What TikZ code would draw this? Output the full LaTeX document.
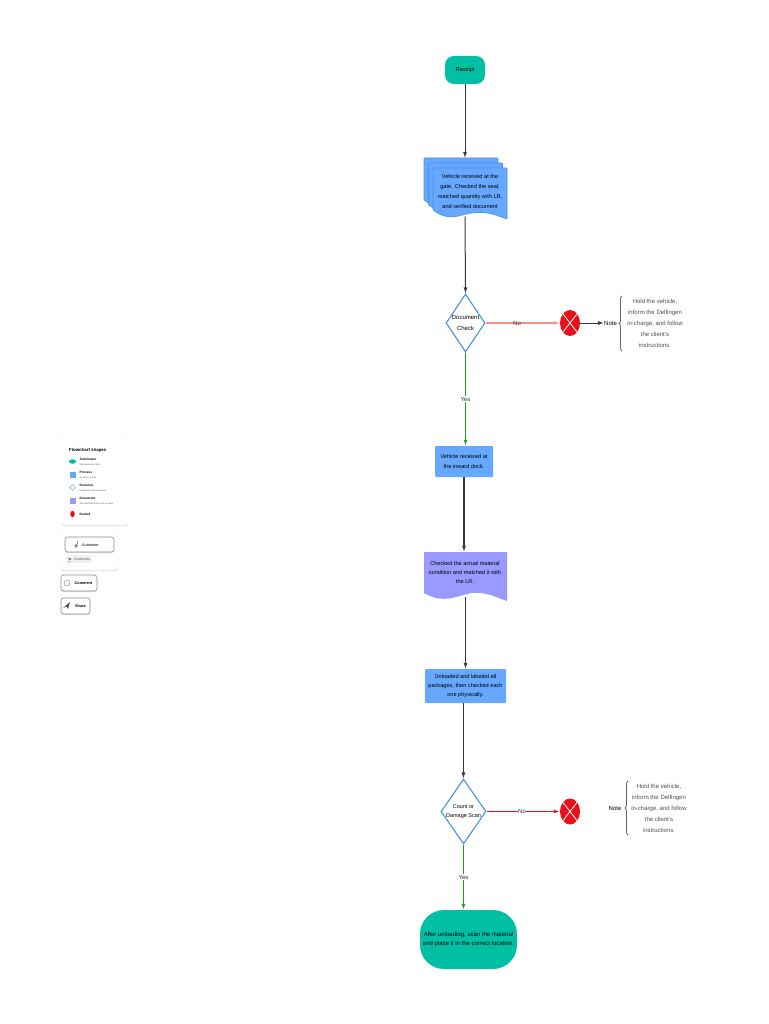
\documentclass[tikz,border=0pt]{standalone}
\usepackage{fontspec}
\setmainfont{Liberation Sans}
\usetikzlibrary{shapes.geometric}
\usetikzlibrary{positioning}
\usetikzlibrary{arrows.meta}
\usetikzlibrary{shadows}
\usetikzlibrary{decorations.pathreplacing}
\definecolor{termgreen}{HTML}{00BFA5}
\definecolor{procblue}{HTML}{66A8FF}
\definecolor{diagblue}{HTML}{4A90E2}
\definecolor{docpurple}{HTML}{9999FF}
\definecolor{denyred}{HTML}{E8101A}
\definecolor{linedark}{HTML}{333A45}
\definecolor{yesgreen}{HTML}{1F9E1F}
\tikzset{
  txt/.style={font=\fontsize{6}{11}\selectfont,align=center,inner sep=0pt,text=black},
  tight/.style={font=\fontsize{5.6}{#1}\selectfont},
  termbox/.style={txt,fill=termgreen,rounded corners=#1},
  procbox/.style={txt,fill=procblue,rounded corners=1pt},
  decbox/.style={txt,diamond,draw=diagblue,line width=1.1pt,fill=white,aspect=.7},
  flow/.style={-{Latex[length=6pt,width=4pt]},draw=linedark,line width=1pt},
  lab/.style={font=\fontsize{6}{7}\selectfont,fill=white,inner sep=.6pt,text=black!80},
  softshadow/.style={drop shadow={shadow xshift=0pt,shadow yshift=-1.2pt,opacity=.12,fill=black}},
  card/.style={draw=black!5,fill=white,rounded corners=3pt,line width=.4pt,softshadow},
  btn/.style={draw=black!45,fill=white,rounded corners=2.5pt,line width=.6pt,softshadow},
  lhead/.style={font=\fontsize{3.2}{4}\selectfont\bfseries,anchor=west,inner sep=0pt},
  lsub/.style={font=\fontsize{2.2}{3}\selectfont,anchor=west,inner sep=0pt,text=black!70},
}
\newcommand{\denied}[2]{%
  \node[ellipse,fill=denyred,minimum width=20pt,minimum height=26pt,inner sep=0pt] (#1) at #2 {};
  \draw[white,line width=.8pt] (#1.north west) -- (#1.south east) (#1.north east) -- (#1.south west);
}
\begin{document}
\begin{tikzpicture}[x=1pt,y=-1pt]
  \useasboundingbox (0,0) rectangle (768,1024);

  % main column
  \node[termbox=9pt,tight=7,minimum width=40pt,minimum height=28pt] (receipt) at (465,70) {Receipt};

  \foreach \dx/\dy in {0/0,4.5/5,9/10}
    \fill[procblue,draw=diagblue,line width=.6pt,rounded corners=.8pt] (424+\dx,158+\dy) -- (498+\dx,158+\dy) -- (498+\dx,209+\dy) .. controls (486+\dx,205+\dy) and (479+\dx,201+\dy) .. (463+\dx,203+\dy) .. controls (449+\dx,205+\dy) and (441+\dx,212+\dy) .. (424+\dx,200+\dy) -- cycle;
  \node[txt,tight=10.2] (doca) at (470,191.5) {Vehicle received at the\\gate. Checked the seal,\\matched quantity with LR,\\and verified document};
  \coordinate (docatop) at (465,158);
  \coordinate (docabot) at (465,216.5);

  \node[decbox,minimum width=39pt,minimum height=58pt] (checka) at (465.5,323) {};
  \node[txt] (checkatxt) at (checka) {Document\\Check};

  \node[procbox,tight=9.5,minimum width=58pt,minimum height=31pt] (inward) at (464,461.5) {Vehicle received at\\the inward dock.};

  \fill[docpurple] (424,552) -- (507,552) -- (507,601) .. controls (495,597) and (488,592) .. (472,593) .. controls (458,595) and (445,605) .. (424,593) -- cycle;
  \node[txt,tight=8.6] (docb) at (465,572.5) {Checked the actual material\\condition and matched it with\\the LR.};
  \coordinate (docbtop) at (464,552);
  \coordinate (docbbot) at (465.5,597);

  \node[procbox,tight=8.7,minimum width=81pt,minimum height=34pt] (unload) at (465.5,686) {Unloaded and labeled all\\packages, then checked each\\one physically.};

  \node[decbox,minimum width=45pt,minimum height=65pt] (checkb) at (463.5,811.5) {};
  \node[txt,font=\fontsize{5.5}{9}\selectfont] (checkbtxt) at (checkb) {Count or\\Damage Scan};

  \node[termbox=24pt,font=\fontsize{6}{8.2}\selectfont,minimum width=97pt,minimum height=59pt] (final) at (468.5,939.5) {After unloading, scan the material\\and place it in the correct location.};

  % side branches
  \denied{xa}{(570,323)}
  \denied{xb}{(570,811.5)}

  \node[txt] (notea) at (610.5,323) {Note};
  \node[txt,text=black!70] (holda) at (655,323) {Hold the vehicle,\\inform the Delfingen\\in-charge, and follow\\the client's\\instructions.};
  \node[txt] (noteb) at (615,808) {Note};
  \node[txt,text=black!70] (holdb) at (659,808.5) {Hold the vehicle,\\inform the Delfingen\\in-charge, and follow\\the client's\\instructions.};
  \coordinate (bratop) at (622,296);
  \coordinate (brabot) at (622,351);
  \coordinate (brbtop) at (628,781);
  \coordinate (brbbot) at (628,835);
  \draw[black!60,line width=.8pt,decorate,decoration={brace,amplitude=3pt}] (brabot) -- (bratop);
  \draw[black!60,line width=.8pt,decorate,decoration={brace,amplitude=3pt}] (brbbot) -- (brbtop);

  % connectors
  \draw[flow] (receipt) -- (docatop);
  \draw[flow] (docabot) -- (checka.north);
  \draw[flow,draw=yesgreen,line width=1.6pt] (checka.south) -- (inward.north -| checka.south);
  \node[lab] (yesa) at (465.5,399) {Yes};
  \draw[flow,line width=1.8pt] (inward) -- (docbtop);
  \draw[flow] (docbbot) -- (unload);
  \draw[flow] (unload.south -| checkb.north) -- (checkb.north);
  \draw[flow,draw=yesgreen,line width=1.6pt] (checkb.south) -- (final.north -| checkb.south);
  \node[lab] (yesb) at (463.5,877) {Yes};
  \draw[flow,draw=red!45,line width=1.7pt] (checka.east) -- (xa.west);
  \node[lab,fill=none] (noa) at (517,323) {No};
  \draw[flow,draw=denyred,line width=1.2pt] (checkb.east) -- (xb.west);
  \node[lab] (nob) at (522,811.5) {No};
  \draw[flow] (xa.east) -- (notea.west);

  % legend
  \draw[card] (61,437) rectangle (128,525);
  \node[font=\fontsize{4.4}{5}\selectfont\bfseries,anchor=west,inner sep=0pt] (legtitle) at (69,450) {Flowchart shapes};
  \node[ellipse,fill=termgreen,minimum width=7pt,minimum height=4.5pt,inner sep=0pt] (legt) at (72.5,461.5) {};
  \node[lhead] at (79.5,459.5) {Terminator};
  \node[lsub] at (79.5,464.5) {Start and end of flow};
  \node[fill=procblue,minimum size=6pt,inner sep=0pt] (legp) at (72.5,474.5) {};
  \node[lhead] at (79.5,472.5) {Process};
  \node[lsub] at (79.5,477.5) {An action or task};
  \node[diamond,draw=diagblue!60,line width=.7pt,minimum size=6pt,inner sep=0pt] (legd) at (72.5,487.5) {};
  \node[lhead] at (79.5,485.5) {Decision};
  \node[lsub] at (79.5,490.5) {A question to be answered};
  \node[fill=docpurple,minimum size=6pt,inner sep=0pt] (legm) at (72.5,500.5) {};
  \node[lhead] at (79.5,498.5) {Document};
  \node[lsub] at (79.5,503.5) {The input/output of a step or event};
  \node[ellipse,fill=denyred,minimum width=4.5pt,minimum height=6.5pt,inner sep=0pt] (legx) at (72.5,514) {};
  \node[lhead] at (79.5,514) {Denied};

  \draw[card] (61,532) rectangle (118,570);
  \draw[btn] (65,537) rectangle (114,552);
  \node[lhead,font=\fontsize{3.8}{4}\selectfont] at (82,545) {Automate};
  \draw[black!70,line width=.5pt] (76,546) circle (1.3pt) (76.8,545) -- (78,541);
  \fill[black!6,rounded corners=1pt] (66,555) rectangle (92,563);
  \node[lsub,font=\fontsize{3.4}{4}\selectfont] at (74,559.5) {Customize};
  \draw[black!50,line width=.4pt] (68,558) -- (71,558) (68.5,559.5) -- (70.5,559.5) (69,561) -- (70,561);
  \draw[btn] (61,575) rectangle (97,591);
  \draw[black!60,line width=.3pt] (67,583) circle (3pt);
  \node[lhead,font=\fontsize{3.8}{4}\selectfont\bfseries] at (74.5,583) {Comment};
  \draw[btn] (61,598) rectangle (90,614);
  \fill[black!70] (63,608) -- (70,602) -- (68,609) -- (66.5,606.5) -- cycle;
  \node[lhead,font=\fontsize{3.8}{4}\selectfont\bfseries] at (75,606) {Share};
\end{tikzpicture}
\end{document}
